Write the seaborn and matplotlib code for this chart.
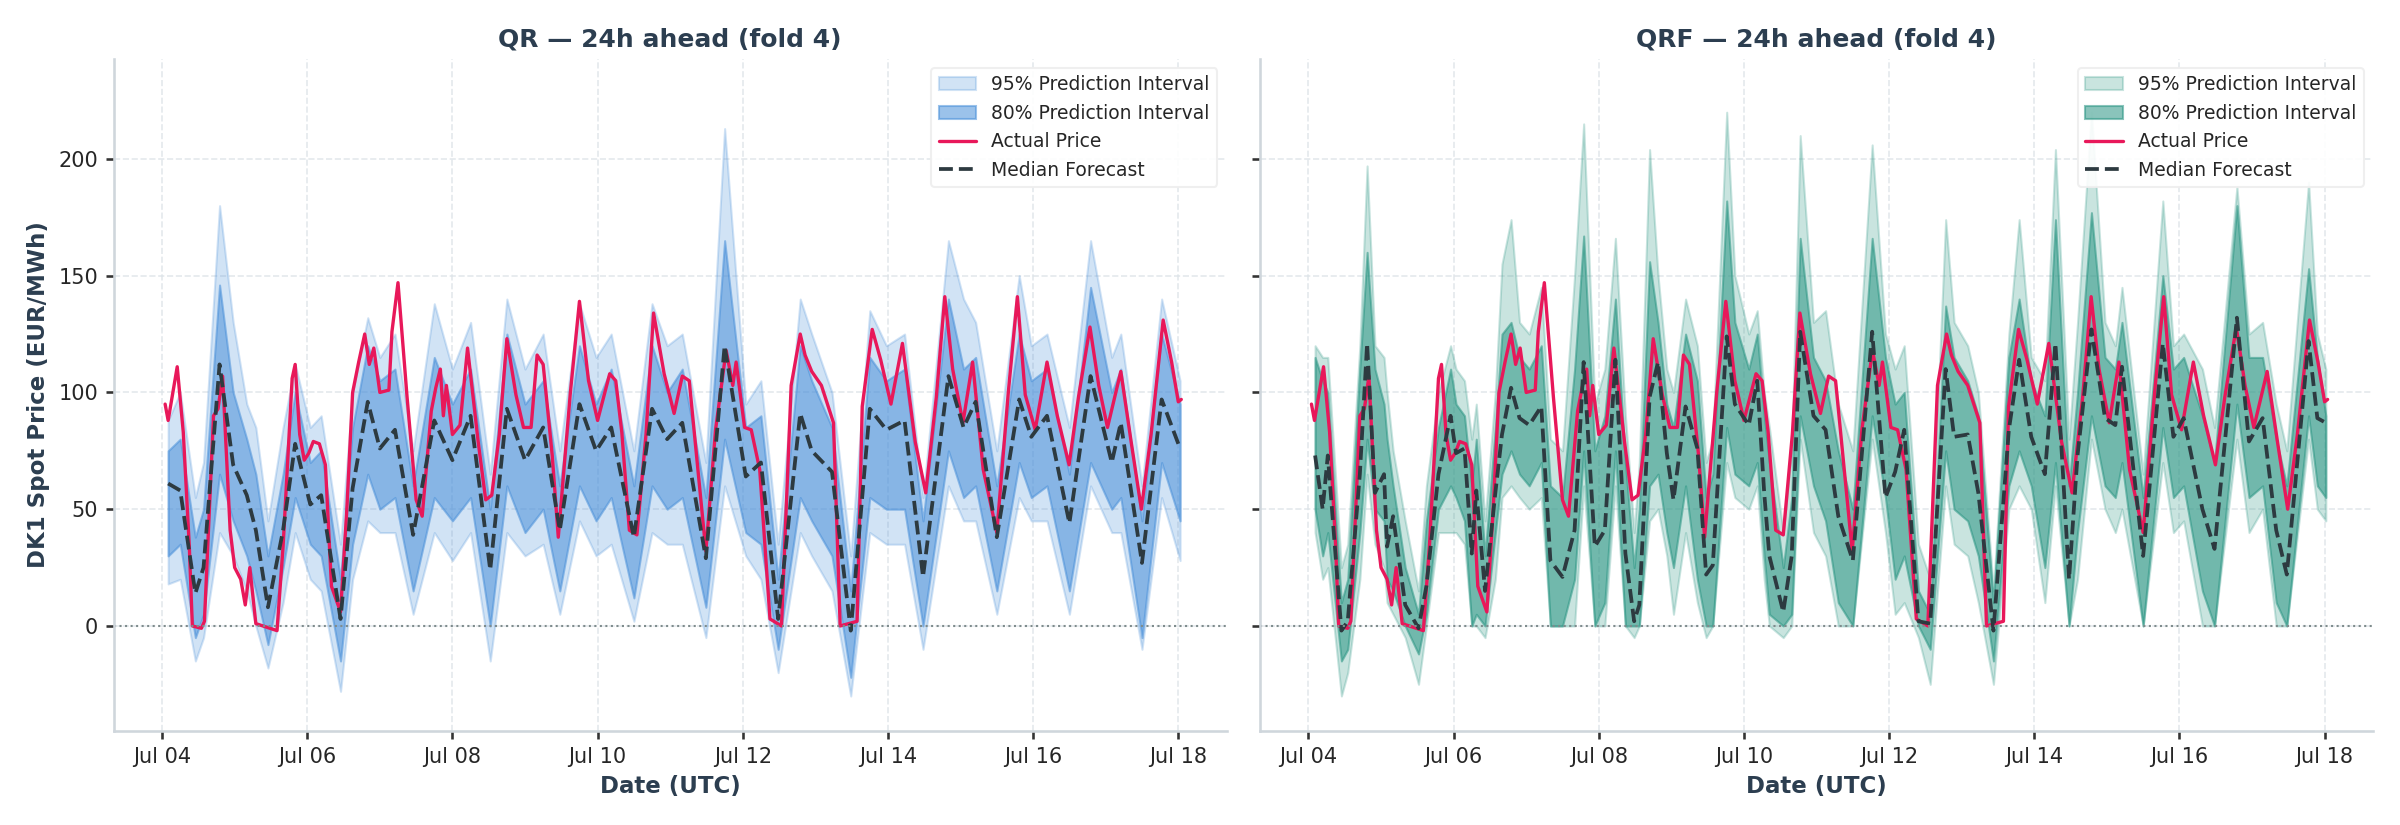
import numpy as np
import pandas as pd
import matplotlib
matplotlib.use("Agg")
import matplotlib.pyplot as plt
import matplotlib.dates as mdates
import seaborn as sns

START = pd.Timestamp("2024-07-04 00:00")

# Actual price (hours after Jul 04 00:00, EUR/MWh)
act_h = [1,2,5,7,9,10,13,14,17,18.5,20,22.5,24,26,27.5,29,31,38,40,43,44,45.5,47,48.5,50,52,54,56,59,61,63,65,67,68.5,70,72,75,76,78,81,84,86,89,90.5,92,93,94,96,98.5,101,104.5,107,109,111.5,114,117,119.5,122,124,126,129,131,135,138,141,144,148,150,152,154.5,157,160,162.5,166,
         169.3,172,174.3,179.8,183,186.5,188.7,189.8,192.6,194.8,197.6,201,204.8,208,211,212.6,214.8,218,222,224.2,229.8,231.5,234.8,237.6,241,244.8,249,252.5,256,258.8,261.4,264.8,268,271.5,276,279.8,282.8,285.4,288.7,292.6,296,299.9,303,306.8,309.7,312.6,317,320.4,323.8,327,331,333.8,336,337]
act_v = [95,88,111,83,34,0,-1,2,90,93,107,41,25,20,9,25,1,-2,34,106,112,82,71,74,79,78,69,17,6,48,100,113,125,112,119,100,101,126,147,98,54,47,92,102,110,90,103,82,86,119,79,54,56,82,123,99,85,85,116,112,73,38,100,139,105,88,108,105,83,41,39,82,134,108,
         91,107,105,32,84,118,103,113,85,84,67,3,0,103,125,116,109,103,87,0,2,94,127,114,95,121,79,57,98,141,110,87,113,67,40,100,141,99,84,113,90,69,98,128,103,85,109,79,50,82,131,113,96,97]

# QR: median and interval bounds
qr_h = [2,6,11,13.7,19,23.5,28,31,35,40,44,49,52.6,59,63,68,72,77,83,90,96,102,108.5,114,120,126,131.5,138,143.5,148.5,156,162,167,172,179.8,186,193,198,203.7,211,214.8,221.5,227.7,234,239.5,245.5,251.6,260,265,269,276,283.4,287.4,292.6,300,307,314,317,324,330.5,336.6]
qr_med = [61,58,14,25,112,69,56,41,8,41,78,52,56,3,59,96,76,84,39,88,71,90,24,93,71,85,41,95,75,85,38,93,80,87,29,120,64,70,3,91,75,66,-2,93,84,88,21,107,85,96,38,97,81,90,44,107,70,87,27,97,76]
qr_lo95 = [18,20,-15,-5,40,30,15,0,-18,10,40,20,15,-28,20,45,40,40,5,40,28,40,-15,40,30,35,5,45,30,35,2,40,35,35,-5,60,30,20,-20,40,30,15,-30,40,35,35,-10,60,45,45,5,55,45,45,5,60,40,40,-10,55,28]
qr_lo80 = [30,35,-5,5,65,45,30,15,-8,25,55,35,30,-15,35,65,50,55,15,55,45,55,0,60,40,50,15,60,45,55,12,60,50,55,8,80,40,35,-10,55,45,30,-22,55,50,50,0,75,55,60,15,70,55,60,15,70,50,55,-5,70,45]
qr_hi80 = [75,80,38,50,146,100,80,65,30,65,100,70,75,20,85,120,105,110,60,115,95,110,50,125,95,105,60,120,95,110,60,120,100,110,55,165,85,90,20,120,105,85,15,115,105,110,45,140,110,115,60,125,105,110,65,145,100,110,45,125,95]
qr_hi95 = [88,100,55,70,180,130,95,85,45,85,112,85,90,35,100,132,115,125,75,138,110,130,65,140,110,125,75,138,115,125,75,138,120,125,70,213,95,105,35,140,125,100,30,135,120,125,55,165,140,130,75,150,120,125,85,165,115,125,60,140,105]

# QRF: median and interval bounds
qrf_h = [2.2,4.7,6.4,10.9,13,17,19.4,22,25,26,28,32,36.4,39,43,47,48.8,51.6,54,55.5,58.4,61.8,64,67,69.8,73,77,80,84,88,91,94.7,98,101.5,104.8,107.7,109.4,112.8,115.6,118.5,120.7,124.7,128.6,131.5,133.7,138.3,141,145.6,148.4,150.7,152.4,157,159.8,162.6,167,171,175.2,180,186.4,190.8,194,197,201.7,205.6,210.7,213.5,218,221.5,226.5,231.6,235,239,243.5,247,251.5,254.3,258.9,263.4,266.8,269,276,282.5,286,289.4,295.6,299.6,307,311,315.5,320,323.5,330.7,333.6,336.4]
qrf_med = [73,50,73,-2,2,65,121,57,65,34,47,9,-1,17,65,90,74,76,31,58,15,57,82,102,89,86,94,28,21,41,113,34,41,114,31,2,9,98,113,74,54,94,76,22,26,124,95,86,105,57,30,6,30,126,90,84,47,28,126,55,66,84,2,1,110,81,82,57,-2,84,114,81,65,121,20,73,127,89,86,111,30,121,81,89,50,33,132,79,89,41,22,122,89,87]
qrf_lo95 = [40,20,25,-30,-20,20,65,35,25,10,5,-5,-25,0,40,40,40,35,0,0,-5,20,55,60,55,50,55,0,0,0,60,0,0,60,0,-5,0,45,50,30,5,40,10,-5,0,70,55,50,60,20,0,-5,0,80,40,30,0,0,80,40,5,10,-5,-25,60,35,30,10,-25,50,60,50,10,60,0,20,80,50,40,50,0,70,40,45,0,0,80,40,50,0,0,80,50,45]
qrf_lo80 = [50,30,40,-15,-10,40,80,50,45,20,15,0,-12,5,50,60,55,45,0,5,0,40,65,75,65,60,70,0,0,20,75,0,10,75,0,0,0,60,65,40,25,60,20,0,0,85,65,60,70,30,5,0,5,90,60,45,10,0,90,55,20,30,0,-10,75,50,45,30,-15,60,75,60,25,70,0,40,90,60,55,70,0,85,55,60,15,0,95,55,60,10,0,90,60,55]
qrf_hi80 = [115,105,100,10,20,110,160,110,95,80,60,25,5,45,85,110,95,90,60,80,30,85,125,130,115,110,120,60,55,110,167,75,90,140,70,25,50,156,130,95,85,125,105,55,65,182,130,110,125,90,70,25,55,166,115,105,75,50,166,115,95,100,15,5,137,115,105,90,10,115,140,105,90,174,60,100,177,115,110,130,55,150,110,115,90,70,180,115,115,80,60,153,115,90]
qrf_hi95 = [120,115,115,25,35,120,197,120,115,100,75,45,15,60,100,120,110,105,80,95,45,100,155,174,130,125,145,80,75,150,215,95,110,166,90,40,70,204,150,110,100,140,120,70,80,220,150,125,135,100,85,40,75,210,130,135,95,75,206,125,110,120,35,20,174,130,120,100,15,125,174,115,105,204,80,130,220,130,120,145,65,182,120,125,110,85,188,125,130,95,75,190,125,110]

def to_dates(hours):
    return START + pd.to_timedelta(np.asarray(hours, dtype=float), unit="h")

sns.set_theme(style="white")
plt.rcParams['font.family'] = ['DejaVu Sans']

fig, axes = plt.subplots(1, 2, figsize=(16, 5.5), dpi=150, sharey=True)
panels = [
    ("QR — 24h ahead (fold 4)", qr_h, qr_med, qr_lo95, qr_lo80, qr_hi80, qr_hi95, "#4a90d9"),
    ("QRF — 24h ahead (fold 4)", qrf_h, qrf_med, qrf_lo95, qrf_lo80, qrf_hi80, qrf_hi95, "#2a9583"),
]
act_df = pd.DataFrame({"t": to_dates(act_h), "v": act_v})
text_col = "#2c3e50"
for ax, (title, h, med, lo95, lo80, hi80, hi95, col) in zip(axes, panels):
    t = to_dates(h)
    ax.fill_between(t, lo95, hi95, color=col, alpha=0.25, lw=1, label="95% Prediction Interval")
    ax.fill_between(t, lo80, hi80, color=col, alpha=0.55, lw=1, label="80% Prediction Interval")
    sns.lineplot(data=act_df, x="t", y="v", ax=ax, color="#e8185a", lw=1.6, label="Actual Price")
    med_df = pd.DataFrame({"t": t, "v": med})
    sns.lineplot(data=med_df, x="t", y="v", ax=ax, color="#2d3a40", lw=1.8, linestyle="--", label="Median Forecast")
    ax.axhline(0, color="#7f8c8d", lw=1, ls=":")
    ax.set_title(title, fontsize=12, fontweight="bold", color=text_col)
    ax.set_xlabel("Date (UTC)", fontsize=11, fontweight="bold", color=text_col)
    ax.set_ylabel("")
    ax.grid(True, ls="--", color="#dde3e8", lw=0.8, alpha=0.8)
    ax.xaxis.set_major_locator(mdates.DayLocator(interval=2))
    ax.xaxis.set_major_formatter(mdates.DateFormatter("%b %d"))
    ax.set_xlim(START - pd.Timedelta(hours=16), START + pd.Timedelta(hours=352))
    ax.tick_params(axis="both", labelsize=10, length=4, color="#333", left=True, bottom=True)
    for s in ["top", "right"]:
        ax.spines[s].set_visible(False)
    for s in ["left", "bottom"]:
        ax.spines[s].set_color("#cfd6dc")
    ax.legend(loc="upper right", fontsize=9, framealpha=0.9, edgecolor="#eeeeee")
axes[0].set_ylim(-45, 243)
axes[0].set_yticks([0, 50, 100, 150, 200])
axes[0].set_ylabel("DK1 Spot Price (EUR/MWh)", fontsize=11, fontweight="bold", color=text_col)
plt.tight_layout()
plt.subplots_adjust(wspace=0.03)
fig.savefig("out.png", dpi=150)
